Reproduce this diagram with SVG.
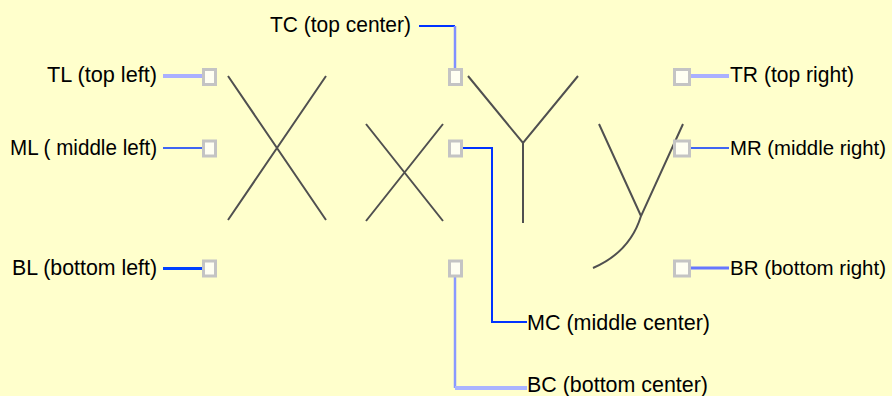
<svg xmlns="http://www.w3.org/2000/svg" width="892" height="396" viewBox="0 0 892 396">
<style>
.lbl{font-family:"Liberation Sans",Arial,sans-serif;font-size:22px;fill:#000}
.sm{font-size:20.4px}
.grip{fill:#fffff2;stroke:#c4c4c4;stroke-width:3}
.glyph{fill:none;stroke:#505050;stroke-width:2;stroke-linecap:butt}
.c{fill:none}
</style>
<rect width="892" height="396" fill="#ffffcc"/>
<g id="glyphs">
<path class="glyph" d="M228,76 L326,220 M326,76 L228,220"/>
<path class="glyph" d="M366,124 L443,221 M443,124 L366,221"/>
<path class="glyph" d="M468,76 L523,143 L578,76"/>
<path class="glyph" d="M523,143 L523,223" stroke="#808080"/>
<path class="glyph" d="M599,124 L641,216 M683,124 L641,216 Q630,252 593,268"/>
</g>
<g id="connectors">
<path class="c" d="M163,76 H204" stroke="#aab0ff" stroke-width="4"/>
<path class="c" d="M163,148 H204" stroke="#0033ff" stroke-width="1.5"/>
<path class="c" d="M163,268.5 H204" stroke="#0040ff" stroke-width="3"/>
<path class="c" d="M419,26 H455" stroke="#0033ff" stroke-width="2"/>
<path class="c" d="M455,26 V70" stroke="#8090ff" stroke-width="2.5"/>
<path class="c" d="M463,148 H492 V322 H527" stroke="#0033ff" stroke-width="2"/>
<path class="c" d="M455,276 V388" stroke="#8899ff" stroke-width="2.5"/>
<path class="c" d="M455,388 H527" stroke="#aab4ff" stroke-width="4"/>
<path class="c" d="M689,76 H729" stroke="#aab0ff" stroke-width="4"/>
<path class="c" d="M689,148 H729" stroke="#0033ff" stroke-width="1.5"/>
<path class="c" d="M689,268 H729" stroke="#6677ff" stroke-width="3"/>
</g>
<g id="TL"><rect class="grip" x="203.5" y="69.5" width="12" height="15"/><text class="lbl" x="47" y="82" textLength="110" lengthAdjust="spacingAndGlyphs">TL (top left)</text></g>
<g id="ML"><rect class="grip" x="203.5" y="141" width="12" height="15"/><text class="lbl" x="10" y="155" textLength="147" lengthAdjust="spacingAndGlyphs">ML ( middle left)</text></g>
<g id="BL"><rect class="grip" x="203.5" y="261" width="12" height="15"/><text class="lbl" x="12" y="275" textLength="145" lengthAdjust="spacingAndGlyphs">BL (bottom left)</text></g>
<g id="TC"><rect class="grip" x="449.5" y="69.5" width="12" height="15"/><text class="lbl" x="270" y="32" textLength="141" lengthAdjust="spacingAndGlyphs">TC (top center)</text></g>
<g id="MC"><rect class="grip" x="449.5" y="141" width="12" height="15"/><text class="lbl" x="527" y="330" textLength="183" lengthAdjust="spacingAndGlyphs">MC (middle center)</text></g>
<g id="BC"><rect class="grip" x="449.5" y="261" width="12" height="15"/><text class="lbl" x="527" y="392" textLength="181" lengthAdjust="spacingAndGlyphs">BC (bottom center)</text></g>
<g id="TR"><rect class="grip" x="674.5" y="69.5" width="15" height="15"/><text class="lbl" x="730" y="82" textLength="124" lengthAdjust="spacingAndGlyphs">TR (top right)</text></g>
<g id="MR"><rect class="grip" x="674.5" y="141" width="15" height="15"/><text class="lbl sm" x="730" y="155" textLength="156" lengthAdjust="spacingAndGlyphs">MR (middle right)</text></g>
<g id="BR"><rect class="grip" x="674.5" y="261" width="15" height="15"/><text class="lbl sm" x="730" y="275" textLength="156" lengthAdjust="spacingAndGlyphs">BR (bottom right)</text></g>
</svg>
